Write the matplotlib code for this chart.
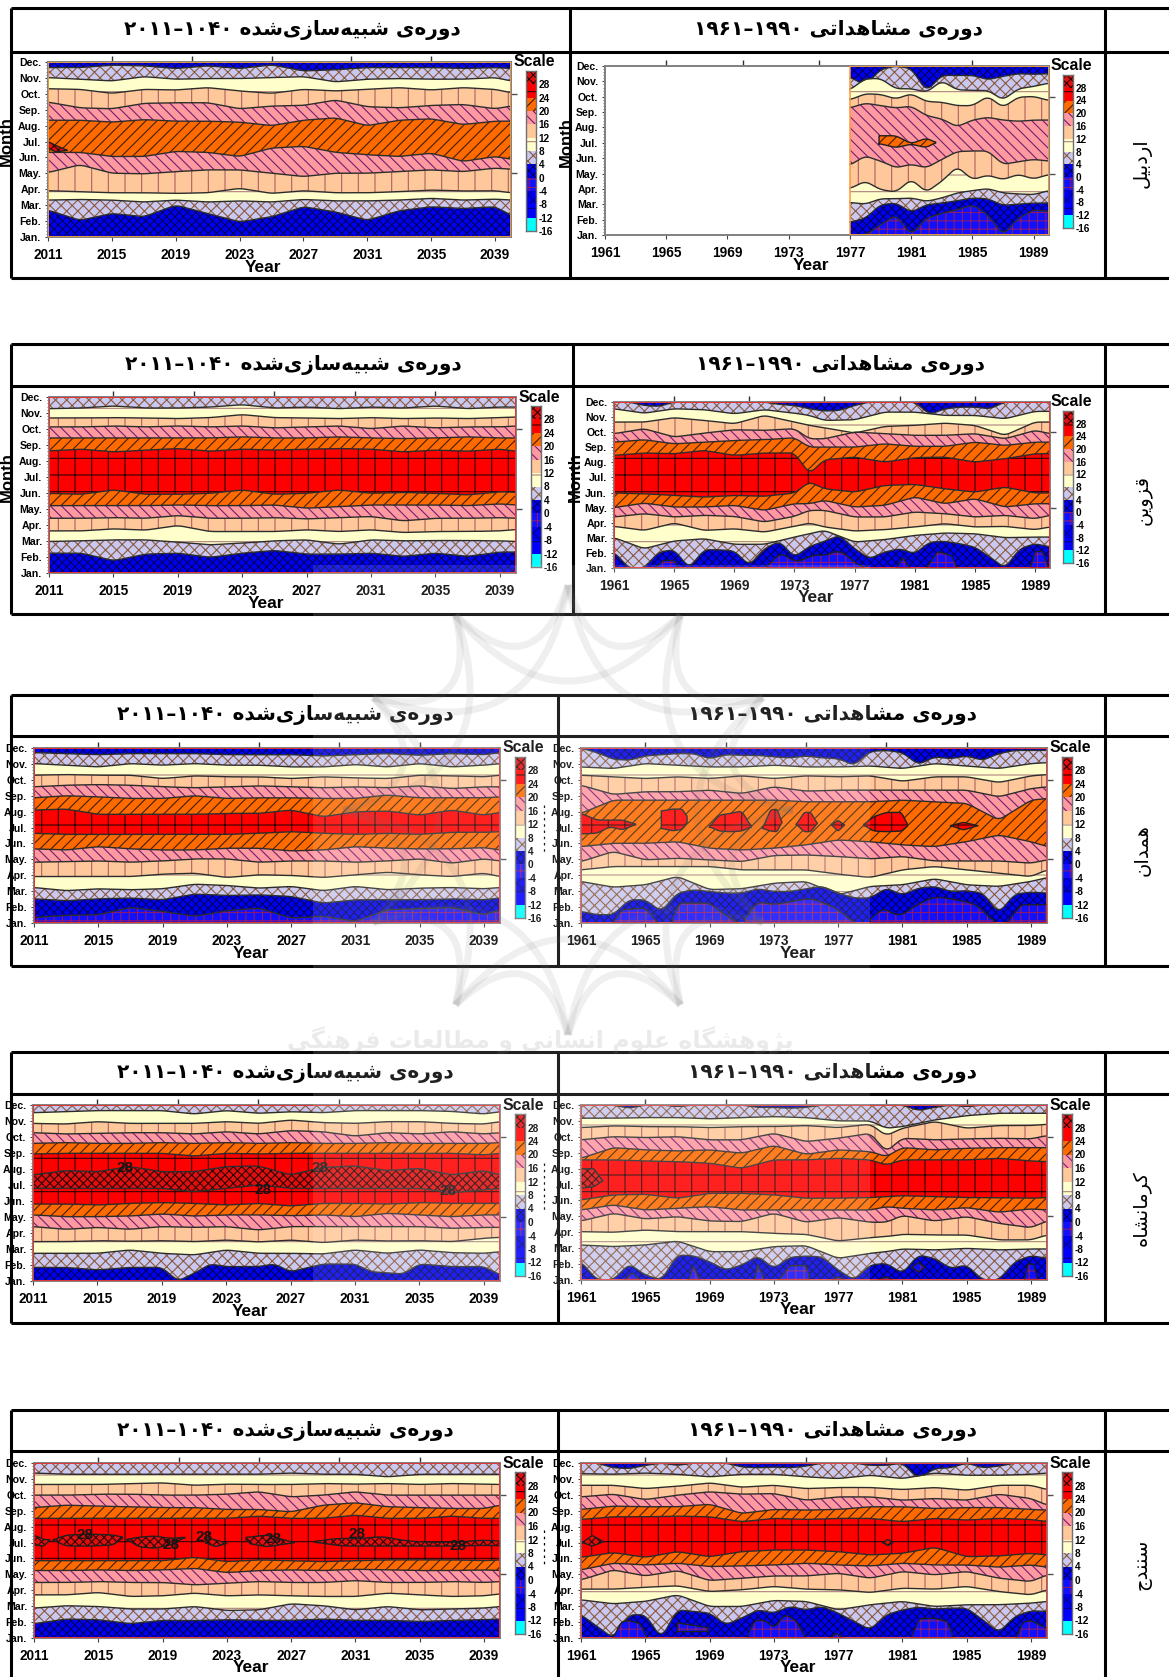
# --- imports ---
import numpy as np
import matplotlib
matplotlib.use("Agg")
import matplotlib.pyplot as plt
from matplotlib.patches import Rectangle, PathPatch
from matplotlib.path import Path

plt.rcParams["font.family"] = ["Liberation Sans", "DejaVu Sans"]
plt.rcParams["font.weight"] = "bold"
plt.rcParams["hatch.linewidth"] = 0.8

W, H = 1169, 1677
MONTHS = ["Jan.", "Feb.", "Mar.", "Apr.", "May.", "Jun.", "Jul.", "Aug.", "Sep.", "Oct.", "Nov.", "Dec."]
SCALE = [-16, -12, -8, -4, 0, 4, 8, 12, 16, 20, 24, 28]

SIM_X = [2011, 2013, 2015, 2017, 2019, 2021, 2023, 2025, 2027, 2029, 2031, 2033, 2035, 2037, 2039, 2040]
OBS_X = [1961, 1963, 1965, 1967, 1969, 1971, 1973, 1975, 1977, 1979, 1981, 1983, 1985, 1987, 1989, 1990]
OBS_YEARS = list(range(1961, 1991))

# --- isotherm positions (in month units), bottom to top ---
# --- Ardabil simulated ---
ard_sim_levels = [4, 8, 12, 16, 20, 20, 16, 12, 8, 4]
ard_sim_lines = [
    [2.69, 2.05, 2.48, 2.27, 3.0, 2.48, 1.95, 2.27, 2.9, 2.58, 2.05, 2.65, 2.9, 2.79, 2.9, 2.37],
    [3.32, 3.36, 3.32, 3.2, 3.32, 3.2, 3.27, 3.2, 3.36, 3.27, 3.27, 3.32, 3.43, 3.32, 3.38, 3.32],
    [3.91, 3.85, 3.78, 3.78, 3.74, 3.78, 4.06, 3.74, 3.91, 3.78, 3.78, 3.85, 3.95, 3.89, 3.91, 3.78],
    [5.05, 5.54, 5.01, 4.97, 5.11, 5.22, 5.22, 5.01, 4.8, 5.01, 5.01, 5.11, 5.22, 5.11, 5.33, 5.26],
    [6.32, 6.32, 6.06, 6.06, 6.38, 6.32, 6.06, 6.59, 6.7, 6.32, 6.17, 6.06, 6.27, 5.75, 6.06, 5.89],
    [8.34, 8.34, 8.22, 8.38, 8.28, 8.28, 8.22, 8.0, 8.34, 8.49, 8.0, 8.34, 8.43, 8.07, 8.28, 8.28],
    [9.48, 9.12, 9.06, 9.4, 9.44, 9.44, 9.06, 9.23, 9.27, 9.61, 9.19, 9.12, 9.27, 9.33, 9.06, 9.23],
    [10.32, 10.28, 10.03, 10.28, 10.24, 10.39, 10.18, 10.03, 10.28, 10.18, 10.28, 10.39, 10.24, 10.39, 10.28, 10.07],
    [11.02, 10.92, 10.81, 11.08, 10.92, 10.96, 10.96, 11.02, 11.08, 10.75, 10.92, 10.96, 10.92, 10.92, 11.02, 10.81],
    [11.65, 11.65, 11.8, 11.76, 11.59, 11.76, 11.59, 11.82, 11.44, 11.51, 11.65, 11.65, 11.65, 11.59, 11.65, 11.59],
]
ard_sim_islands = [(28, [2011, 2011.5, 2012.2], [6.6, 6.35, 6.45], [7.0, 6.75, 6.45])]

# --- Ardabil observed (record starts in 1977) ---
ARD_OBS_X = [1977, 1978, 1979, 1980, 1981, 1982, 1983, 1984, 1985, 1986, 1987, 1988, 1989, 1990]
ard_obs_levels = [0, 4, 8, 12, 16, 16, 12, 8, 4]
ard_obs_lines = [
    [1, 1, 1.66, 2.31, 1, 2.09, 2.42, 2.64, 2.97, 2.31, 1, 2.09, 2.64, 2.53],
    [1.83, 2.09, 2.97, 3.08, 2.49, 2.97, 3.08, 3.23, 3.41, 3.36, 2.93, 3.01, 3.08, 3.08],
    [3.12, 3.01, 3.36, 3.36, 3.41, 3.19, 3.41, 3.74, 3.89, 4.02, 3.74, 3.67, 3.63, 3.89],
    [4.02, 4.5, 3.95, 3.8, 4.61, 3.8, 4.5, 5.44, 4.61, 4.89, 4.61, 4.94, 4.65, 4.94],
    [5.55, 6.14, 5.81, 5.38, 5.6, 5.38, 5.92, 6.43, 6.47, 6.47, 5.6, 5.77, 5.92, 5.81],
    [9.27, 9.58, 9.42, 9.27, 9.38, 8.77, 8.55, 8.05, 8.48, 8.66, 8.48, 8.4, 8.48, 8.48],
    [9.8, 10.19, 10.15, 9.86, 10.19, 9.69, 9.64, 9.42, 9.42, 10.02, 9.32, 9.97, 10.02, 9.75],
    [10.45, 11.18, 11.18, 10.52, 10.52, 10.3, 11.02, 10.45, 10.41, 10.41, 9.8, 10.52, 10.67, 10.89],
    [11.28, 10.74, 11.77, 12, 11.83, 10.37, 11.39, 11.39, 11.39, 11.11, 11.33, 11.5, 11.46, 11.5],
]
ard_obs_islands = [(20, [1978.9, 1980, 1981, 1982, 1982.6], [6.95, 6.69, 6.91, 6.69, 7.02], [7.46, 7.46, 6.95, 7.3, 7.02])]

# --- Qazvin simulated ---
qaz_sim_levels = [4, 8, 12, 16, 20, 24, 24, 20, 16, 12, 8]
qaz_sim_lines = [
    [2.24, 2.24, 1.77, 2.18, 2.24, 1.98, 2.24, 2.41, 2.18, 2.18, 2.24, 2.04, 2.24, 2.04, 2.31, 2.31],
    [2.97, 3.01, 3.07, 3.07, 2.93, 2.76, 2.87, 3.01, 3.07, 2.8, 3.07, 3.01, 3.03, 3.03, 3.01, 2.97],
    [3.63, 3.63, 3.76, 3.68, 3.97, 3.59, 3.59, 3.59, 3.7, 3.59, 3.7, 3.53, 3.59, 3.59, 3.63, 3.72],
    [4.42, 4.42, 4.46, 4.42, 4.59, 4.42, 4.42, 4.46, 4.38, 4.46, 4.53, 4.26, 4.42, 4.42, 4.46, 4.42],
    [5.21, 5.21, 5.21, 5.21, 5.25, 5.21, 5.21, 5.25, 5.05, 5.15, 5.25, 5.25, 5.25, 5.21, 5.32, 5.25],
    [5.98, 5.92, 6.19, 5.92, 5.92, 5.98, 6.19, 5.92, 5.98, 6.19, 5.98, 6.04, 5.98, 5.88, 6.08, 6.04],
    [8.63, 8.74, 8.57, 8.68, 8.78, 8.61, 8.74, 8.68, 8.74, 8.78, 8.74, 8.57, 8.68, 8.61, 8.74, 8.61],
    [9.44, 9.44, 9.44, 9.44, 9.44, 9.44, 9.51, 9.44, 9.44, 9.51, 9.44, 9.4, 9.44, 9.51, 9.44, 9.44],
    [10.13, 10.13, 10.19, 10.13, 10.19, 10.13, 10.19, 10.07, 10.13, 10.19, 10.02, 10.19, 10.07, 10.13, 10.13, 10.19],
    [10.69, 10.69, 10.71, 10.69, 10.65, 10.71, 10.9, 10.71, 10.69, 10.65, 10.71, 10.65, 10.69, 10.65, 10.71, 10.75],
    [11.27, 11.31, 11.44, 11.31, 11.31, 11.37, 11.52, 11.31, 11.37, 11.27, 11.37, 11.31, 11.44, 11.27, 11.37, 11.37],
]

# --- Qazvin observed ---
QAZ_OBS_X = [1961, 1963, 1965, 1967, 1969, 1971, 1973, 1974, 1975, 1977, 1979, 1981, 1983, 1985, 1987, 1989, 1990]
qaz_obs_levels = [4, 8, 12, 16, 20, 24, 24, 20, 16, 12, 8, 4]
qaz_obs_lines = [
    (OBS_YEARS, [2.06, 1, 1, 2.06, 2.21, 1, 2.21, 2.21, 2.13, 1.18, 2.28, 2.77, 1.73, 2.43, 2.77, 3.16, 2.28, 1.62, 2.06, 2.28, 1.95, 2.72, 2.77, 2.61, 2.39, 1.73, 1, 2.28, 2.61, 2.39]),
    [3.01, 2.28, 2.79, 2.94, 2.57, 2.57, 3.05, 3.27, 3.49, 2.72, 2.88, 3.16, 3.32, 3.27, 3.01, 3.05, 3.05],
    [3.76, 3.49, 3.98, 3.49, 3.6, 3.38, 3.76, 3.98, 3.72, 3.45, 3.54, 3.72, 3.94, 3.72, 3.76, 3.54, 3.72],
    [4.38, 4.6, 4.38, 4.49, 4.42, 4.05, 4.42, 4.82, 4.82, 4.38, 4.38, 4.71, 4.6, 4.38, 4.49, 4.27, 4.49],
    [5, 5.3, 5.04, 5.04, 5.15, 4.82, 5.26, 5.26, 5.48, 5.04, 5.15, 5.7, 5.26, 5.59, 5.04, 5.26, 5.26],
    [5.97, 5.92, 5.81, 5.7, 5.81, 5.75, 5.97, 6.7, 6.25, 6.03, 6.47, 6.54, 6.25, 6.03, 6.36, 5.97, 5.97],
    [8.46, 8.62, 8.57, 8.79, 8.46, 8.62, 8.62, 7.25, 8.17, 8.35, 8.02, 8.31, 8.35, 8.02, 8.24, 8.57, 8.57],
    [9.34, 9.5, 9.23, 9.34, 9.45, 9.5, 9.63, 9.01, 9.01, 9.01, 9.23, 9.06, 9.06, 9.34, 9.12, 9.34, 9.34],
    [9.9, 10.23, 9.68, 9.94, 10.16, 10.12, 10.23, 9.56, 9.56, 10.01, 9.9, 9.79, 9.79, 9.9, 9.56, 10.12, 9.9],
    [10.67, 10.67, 10.96, 10.78, 10.56, 11.11, 10.67, 10.45, 10.29, 9.94, 10.38, 10.45, 10.6, 10.45, 9.79, 10.67, 10.67],
    [11.55, 11.26, 11.55, 11.49, 11.22, 11.49, 11.26, 11.11, 10.78, 10.82, 11.33, 11.33, 11.11, 11.11, 10.89, 11.38, 11.38],
    (OBS_YEARS, [12, 12, 11.77, 11.71, 12, 12, 12, 12, 12, 12, 12, 11.84, 11.77, 11.55, 11.4, 11.44, 11.77, 12, 12, 12, 12, 11.18, 11.55, 11.66, 11.66, 11.55, 12, 12, 12, 12]),
]
qaz_obs_islands = [
    (-4, [1963.7, 1964.3, 1965, 1965.3], 1, [1, 1.5, 1.5, 1]),
    (-4, [1971.2, 1972, 1973, 1973.5, 1974.3, 1975, 1976, 1977, 1977.6], 1, [1, 2.1, 1.4, 1.5, 1.9, 1.8, 2.2, 1.4, 1]),
    (-4, [1979.8, 1980.2, 1980.7], 1, [1, 1.7, 1]),
    (-4, [1981.8, 1982.5, 1983.5, 1983.8], 1, [1, 2.1, 1.8, 1]),
    (-4, [1988.7, 1989, 1989.5, 1989.9], 1, [1, 2.1, 2.1, 1]),
]

# --- Hamedan simulated ---
ham_sim_levels = [0, 4, 8, 12, 16, 20, 24, 24, 20, 16, 12, 8, 4]
ham_sim_lines = [
    [1.35, 1.48, 1.52, 1.98, 1.73, 1.42, 1.77, 1.94, 1.31, 1.42, 1.1, 1.84, 1.9, 1.98, 1.52, 1.84],
    [2.52, 2.4, 2.52, 2.57, 2.46, 2.82, 2.73, 2.77, 2.67, 2.25, 2.46, 2.46, 2.46, 2.52, 2.46, 2.57],
    [3.23, 3.03, 3.15, 3.09, 3.15, 3.44, 3.36, 3.19, 3.3, 3.03, 3.3, 3.09, 3.19, 3.23, 3.15, 3.23],
    [3.92, 3.92, 3.92, 3.92, 4.07, 4.13, 3.86, 4.03, 3.99, 3.86, 4.03, 4.19, 4.03, 3.92, 4.13, 3.92],
    [4.82, 4.86, 4.9, 4.82, 4.9, 5.03, 5.03, 4.82, 4.9, 4.9, 4.82, 4.9, 5.03, 4.76, 5.03, 4.9],
    [5.66, 5.59, 5.8, 5.66, 5.59, 5.59, 5.7, 5.7, 5.53, 5.59, 5.8, 5.7, 5.66, 5.66, 5.74, 5.59],
    [6.64, 6.57, 6.57, 6.57, 6.57, 6.57, 6.57, 6.64, 6.74, 6.64, 6.57, 6.64, 6.57, 6.7, 6.7, 6.74],
    [8.1, 8.16, 7.83, 7.83, 7.83, 7.83, 7.89, 7.89, 8.1, 7.68, 7.99, 8.04, 7.78, 8.1, 7.78, 7.95],
    [8.87, 9, 8.93, 8.83, 8.83, 9, 8.83, 8.87, 8.87, 8.83, 8.83, 9.04, 8.87, 8.87, 8.87, 8.93],
    [9.56, 9.66, 9.7, 9.66, 9.56, 9.5, 9.56, 9.62, 9.56, 9.5, 9.56, 9.5, 9.62, 9.45, 9.56, 9.56],
    [10.29, 10.33, 10.29, 10.29, 10.08, 10.25, 10.19, 10.19, 10.08, 10.19, 10.12, 10.08, 10.29, 10.25, 10.19, 10.29],
    [11.02, 10.92, 10.81, 11.02, 10.92, 11.02, 10.92, 10.92, 10.81, 10.81, 10.96, 10.81, 11.02, 10.81, 10.92, 11.02],
    [11.71, 11.65, 11.58, 11.65, 11.65, 11.65, 11.58, 11.58, 11.58, 11.5, 11.58, 11.65, 11.54, 11.65, 11.58, 11.71],
]

# --- Hamedan observed ---
ham_obs_levels = [4, 8, 12, 16, 20, 20, 16, 12, 8, 4]
ham_obs_lines = [
    (OBS_YEARS, [1.73, 1.52, 1.52, 2.46, 2.46, 1.73, 2.88, 3.09, 2.98, 2.88, 2.88, 3.15, 2.98, 2.98, 3.15, 3.3, 2.88, 2.57, 2.57, 3.19, 2.77, 3.19, 3.3, 2.98, 3.03, 2.88, 1.63, 2.82, 2.94, 2.88]),
    [3.61, 3.25, 3.4, 3.92, 3.1, 3.15, 3.5, 3.61, 2.77, 3.3, 3.4, 3.78, 3.4, 3.3, 3.61, 3.86],
    [4.34, 4.55, 4.55, 4.55, 4.55, 4.34, 4.34, 4.34, 4.07, 3.86, 4.34, 4.55, 4.34, 4.13, 3.92, 4.34],
    [4.86, 5.49, 4.97, 5.07, 4.97, 4.86, 5.24, 5.28, 5.18, 5.03, 5.18, 4.9, 4.9, 4.9, 4.76, 4.97],
    [5.8, 6.01, 6.01, 6.11, 5.7, 5.59, 5.7, 5.91, 6.22, 6.11, 5.91, 5.8, 6.11, 6.53, 6.11, 5.8],
    [7.89, 8.72, 8.72, 8.72, 8.72, 8.72, 8.72, 8.62, 8.62, 8.62, 8.72, 8.62, 8.52, 7.47, 8.72, 8.83],
    [9.66, 9.08, 9.25, 9.25, 9.35, 9.14, 9.56, 9.29, 9.35, 9.35, 9.35, 9.35, 9.35, 8.93, 9.45, 9.56],
    [10.29, 10.19, 10.08, 10.19, 10.08, 10.25, 10.08, 10.25, 10.19, 10.25, 9.91, 10.19, 10.19, 9.83, 10.25, 10.33],
    [10.81, 10.71, 11.02, 10.92, 10.81, 10.81, 10.92, 10.81, 10.81, 10.87, 10.71, 11.02, 10.87, 10.71, 11.02, 11.08],
    (OBS_YEARS, [12, 11.71, 11.29, 11.23, 11.5, 11.58, 11.65, 11.65, 11.33, 11.58, 11.54, 11.54, 11.44, 11.38, 11.5, 11.38, 11.33, 10.92, 11.79, 11.85, 11.71, 10.96, 11.44, 11.33, 11.5, 11.23, 11.65, 11.85, 11.85, 11.85]),
]
ham_obs_islands = [
    (-4, [1963, 1963.5, 1965, 1965.8], 1, [1, 1.83, 1.94, 1]),
    (-4, [1966.7, 1967, 1969, 1970, 1970.8], 1, [1, 2.25, 2.25, 1.5, 1]),
    (-4, [1971.2, 1971.8, 1973, 1975.3, 1976.9, 1978], 1, [1, 2.36, 2.15, 2.57, 1.94, 1]),
    (-4, [1979, 1979.7, 1980.7, 1981.9, 1983, 1984.4, 1985.7, 1986.7], 1, [1, 2.15, 1.31, 2.15, 2.67, 2.46, 2.15, 1]),
    (-4, [1987.5, 1988.4, 1990], 1, [1, 2.15, 2.15]),
    (24, [1961, 1962, 1962.8, 1963.6, 1964.4], [6.6, 6.64, 7.05, 6.85, 7.2], [7.89, 7.47, 7.47, 7.47, 7.2]),
    (24, [1966, 1966.7, 1967.3, 1967.6], [6.95, 6.8, 6.88, 7.37], [8.04, 8.16, 8.16, 7.68]),
    (24, [1969, 1969.6, 1970.3, 1971, 1971.6], [7.05, 6.78, 6.74, 6.78, 7.05], [7.05, 7.78, 7.89, 8.04, 7.05]),
    (24, [1972.3, 1972.8, 1973.2, 1973.5], [6.95, 6.78, 6.74, 7.33], [6.95, 8.1, 8.16, 7.33]),
    (24, [1974.4, 1974.9, 1975.3, 1975.7], [7.2, 6.74, 6.74, 7.26], [7.2, 7.95, 7.95, 7.26]),
    (24, [1976.6, 1977, 1977.4], [7.16, 6.78, 7.16], [7.16, 7.45, 7.16]),
    (24, [1978.6, 1979.2, 1980, 1981, 1981.3], [7.16, 6.78, 6.74, 6.78, 7.12], [7.16, 7.68, 7.95, 7.95, 7.12]),
    (24, [1984, 1984.8, 1985.7], [7.12, 6.85, 7.12], [7.12, 7.33, 7.12]),
]

# --- Kermanshah simulated ---
ker_sim_levels = [4, 8, 12, 16, 20, 24, 28, 28, 24, 20, 16, 12, 8]
ker_sim_lines = [
    ([2011, 2013, 2015, 2017, 2019, 2020, 2021, 2022, 2023, 2025, 2026, 2027, 2029, 2031, 2032, 2034, 2035, 2037, 2039, 2040],
     [1.85, 1.85, 1.69, 1.85, 1.85, 1, 1.48, 2.06, 1.9, 1.9, 2.06, 1.58, 2.06, 2.06, 1.58, 1.44, 2.06, 1.9, 1.9, 1.38]),
    [2.73, 2.73, 2.73, 2.94, 2.73, 2.63, 2.94, 2.73, 2.73, 2.69, 2.94, 2.73, 2.94, 2.77, 2.73, 2.83],
    [3.46, 3.46, 3.52, 3.48, 3.52, 3.46, 3.56, 3.44, 3.56, 3.4, 3.56, 3.5, 3.52, 3.46, 3.67, 3.73],
    [4.4, 4.23, 4.35, 4.23, 4.4, 4.35, 4.4, 4.19, 4.4, 4.4, 4.4, 4.4, 4.4, 4.29, 4.35, 4.35],
    [5.13, 5.02, 5.02, 5.06, 5.19, 5.06, 5.13, 5.13, 5.08, 5.13, 5.02, 5.23, 5.13, 5.02, 5.13, 5.13],
    [5.81, 5.81, 5.75, 5.85, 5.9, 5.85, 5.75, 5.85, 5.69, 5.85, 5.85, 5.81, 5.9, 5.85, 5.85, 5.85],
    [6.79, 6.79, 6.79, 6.79, 6.79, 6.58, 6.79, 7, 6.79, 6.79, 6.79, 6.79, 6.79, 6.52, 6.69, 6.79],
    [7.63, 7.9, 7.83, 8.15, 7.83, 7.83, 8.15, 8.19, 7.63, 8.1, 8.19, 7.9, 8.04, 7.63, 7.9, 7.63],
    [8.94, 8.98, 8.98, 8.98, 8.98, 8.81, 8.98, 8.94, 8.98, 8.98, 8.98, 8.98, 8.98, 8.98, 8.88, 8.98],
    [9.6, 9.65, 9.6, 9.6, 9.65, 9.6, 9.65, 9.6, 9.65, 9.6, 9.6, 9.65, 9.6, 9.6, 9.6, 9.65],
    [10.27, 10.19, 10.23, 10.27, 10.27, 10.19, 10.33, 10.19, 10.4, 10.33, 10.06, 10.27, 10.19, 10.33, 10.19, 10.27],
    [10.85, 10.81, 10.96, 10.85, 10.85, 10.85, 10.96, 10.85, 11.06, 10.9, 10.85, 10.96, 10.96, 10.85, 10.81, 10.96],
    [11.52, 11.58, 11.65, 11.65, 11.65, 11.44, 11.65, 11.48, 11.58, 11.52, 11.65, 11.65, 11.65, 11.6, 11.44, 11.58],
]
ker_sim_labels = [(2016.7, 8.04), (2028.8, 8.04), (2025.3, 6.69), (2036.8, 6.65)]

# --- Kermanshah observed ---
KER_OBS_X = [1961, 1963, 1965, 1967, 1969, 1971, 1973, 1975, 1977, 1979, 1980, 1981, 1983, 1985, 1987, 1989, 1990]
ker_obs_levels = [4, 8, 12, 16, 20, 24, 24, 20, 16, 12, 8, 4]
ker_obs_lines = [
    (OBS_YEARS, [2.15, 1, 1, 2.01, 1.31, 1, 2.57, 2.53, 2.15, 1.63, 1.94, 2.51, 1.73, 2.43, 2.51, 2.45, 1.63, 1, 1.94, 2.05, 1.42, 2.57, 2.36, 1.73, 1.94, 1, 1, 2.15, 2.53, 2.36]),
    [3.2, 3.1, 3.2, 3.45, 2.78, 2.78, 3.1, 3.16, 2.36, 2.68, 2.78, 2.95, 2.89, 2.99, 2.89, 2.95, 2.95],
    [4.04, 4, 4.14, 4.04, 4.04, 4.04, 3.93, 3.87, 3.45, 3.66, 3.73, 3.87, 3.83, 3.83, 3.52, 3.52, 3.83],
    [4.71, 5.19, 4.84, 4.98, 4.71, 4.67, 5.19, 4.63, 4.92, 4.63, 4.63, 5.05, 4.71, 4.98, 4.56, 4.29, 4.71],
    [5.4, 5.72, 5.4, 5.51, 5.61, 5.4, 5.4, 5.4, 5.4, 5.4, 5.61, 5.51, 5.4, 5.55, 5.26, 5.47, 5.4],
    [6.03, 6.35, 6.39, 6.14, 6.45, 6.45, 6.35, 6.14, 6.14, 6.18, 6.24, 6.3, 6.24, 6.18, 6.18, 6.14, 6.18],
    [8.55, 8.55, 8.48, 8.44, 8.34, 8.02, 8.55, 8.55, 8.65, 8.55, 8.23, 8.55, 8.55, 8.55, 8.65, 8.48, 8.44],
    [8.65, 9.32, 9.18, 9.11, 9.18, 8.97, 9.45, 8.9, 9.18, 9.07, 8.76, 9.32, 9.18, 9.28, 9.32, 9.32, 9.32],
    [9.81, 10.01, 9.95, 10.01, 9.81, 9.81, 10.22, 9.7, 9.91, 10.22, 9.07, 9.91, 9.81, 9.87, 9.91, 9.87, 10.08],
    [10.58, 10.69, 10.64, 10.64, 10.58, 10.64, 10.64, 10.71, 10.58, 10.79, 10.08, 10.54, 10.96, 10.54, 10.71, 10.71, 10.79],
    [11.17, 11.17, 11.21, 11.21, 11.13, 11.21, 11.27, 11.21, 11, 11, 10.54, 10.64, 11.06, 11.33, 11.48, 11.48, 11.48],
    (OBS_YEARS, [12, 12, 12, 11.8, 12, 12, 11.9, 12, 12, 12, 12, 11.85, 11.85, 11.8, 11.85, 12, 12, 12, 12, 12, 12, 11.65, 11.85, 12, 11.9, 12, 12, 12, 12, 12]),
]
ker_obs_islands = [
    (28, [1961, 1961.8, 1962.35], [6.77, 6.87, 7.23], [7.98, 8.0, 7.23]),
    (-4, [1963.7, 1964.2, 1964.7], 1, [1, 1.45, 1]),
    (-4, [1967.7, 1968, 1968.4], 1, [1, 1.9, 1]),
    (-4, [1971.8, 1972, 1972.4], 1, [1, 2, 1]),
    (-4, [1973.3, 1974, 1975.1, 1975.2], 1, [1, 1.9, 1.9, 1]),
    (-4, [1976.6, 1977, 1977.4], 1, [1, 1.2, 1]),
    (-4, [1979.5, 1980, 1980.4], 1, [1, 1.2, 1]),
    (-4, [1981.6, 1982, 1982.4], [1.8, 1.5, 1.8], [1.8, 2.1, 1.8]),
    (-4, [1988.6, 1988.8, 1989.2, 1989.4], 1, [1, 2, 2, 1]),
]

# --- Sanandaj simulated ---
san_sim_levels = [4, 8, 12, 16, 20, 24, 24, 20, 16, 12, 8]
san_sim_lines = [
    [1.9, 2.19, 2.15, 1.9, 2.11, 2.09, 2.15, 2.11, 2.11, 2.19, 2.11, 2.11, 2.04, 2.11, 2.15, 2.19],
    [2.88, 3.03, 2.98, 2.82, 2.82, 2.98, 2.73, 2.77, 3.15, 3.03, 2.77, 2.98, 2.77, 2.82, 2.88, 2.98],
    [3.71, 3.71, 3.86, 3.61, 3.65, 3.82, 3.65, 3.71, 3.65, 3.61, 3.61, 3.82, 3.71, 3.61, 3.65, 3.78],
    [4.49, 4.49, 4.55, 4.49, 4.49, 4.34, 4.44, 4.55, 4.49, 4.49, 4.61, 4.49, 4.49, 4.55, 4.49, 4.55],
    [5.24, 5.24, 5.28, 5.24, 5.28, 5.38, 5.11, 5.24, 5.28, 5.24, 5.32, 5.28, 5.24, 5.24, 5.28, 5.24],
    [5.86, 5.86, 5.86, 5.86, 5.86, 6.07, 5.8, 5.91, 5.86, 5.8, 5.86, 5.91, 5.91, 5.91, 5.86, 5.91],
    [8.52, 8.52, 8.52, 8.52, 8.52, 8.52, 8.52, 8.66, 8.52, 8.52, 8.72, 8.52, 8.52, 8.66, 8.52, 8.52],
    [9.2, 9.35, 9.29, 9.25, 9.2, 9.2, 9.08, 9.08, 8.93, 9.35, 9.5, 9.25, 9.2, 9.14, 9.14, 9.35],
    [9.98, 9.98, 10.04, 10.04, 9.98, 9.98, 10.04, 10.19, 9.87, 9.98, 10.19, 9.98, 9.98, 9.98, 9.98, 9.98],
    [10.65, 10.65, 10.65, 10.71, 10.75, 10.6, 10.67, 10.65, 10.65, 10.71, 10.67, 10.71, 10.65, 10.71, 10.67, 10.65],
    [11.37, 11.29, 11.29, 11.29, 11.29, 11.29, 11.29, 11.29, 11.37, 11.29, 11.29, 11.13, 11.29, 11.29, 11.29, 11.29],
]
san_sim_islands = [
    (28, [2011, 2011.6, 2012], [6.85, 6.78, 7.16], [7.47, 7.2, 7.16]),
    (28, [2012.2, 2013, 2014.5, 2016, 2016.5], [7.16, 6.78, 6.78, 6.85, 7.33], [7.16, 7.47, 7.53, 7.47, 7.33]),
    (28, [2016.8, 2017.5, 2018.5, 2019.5, 2020.4], [7.2, 6.74, 6.64, 6.85, 7.33], [7.2, 7.33, 7.41, 7.26, 7.33]),
    (28, [2021.7, 2022.3, 2023], [6.99, 6.74, 6.95], [7.33, 7.16, 6.95]),
    (28, [2024.2, 2024.3, 2025.5, 2027.2], [7.33, 6.95, 6.74, 6.99], [7.33, 7.33, 7.47, 6.99]),
    (28, [2028.5, 2030, 2031.5, 2032.5, 2034, 2036, 2038, 2039, 2040], [7.05, 6.78, 6.78, 6.78, 6.78, 6.78, 6.78, 6.85, 6.78], [7.05, 7.3, 7.2, 7.45, 7.1, 7.0, 7.05, 7.2, 7.05]),
]
san_sim_labels = [(2014.2, 7.47), (2019.5, 6.85), (2021.6, 7.33), (2025.9, 7.2), (2031.1, 7.53), (2037.4, 6.78)]

# --- Sanandaj observed ---
san_obs_levels = [4, 8, 12, 16, 20, 24, 24, 20, 16, 12, 8, 4]
san_obs_lines = [
    (OBS_YEARS, [2.46, 1.73, 1, 2.46, 2.46, 1, 2.77, 2.67, 2.57, 1.84, 2.25, 2.77, 2.57, 2.98, 2.77, 2.98, 2.57, 2.04, 1.52, 2.46, 2.77, 2.94, 2.82, 2.88, 2.88, 2.15, 1.35, 2.36, 2.71, 2.67]),
    [3.4, 3.15, 3.3, 3.71, 2.98, 2.98, 3.36, 3.3, 2.77, 3.09, 3.3, 2.98, 3.09, 3.09, 3.19, 3.3],
    [4.07, 4.07, 4.19, 4.28, 3.92, 4.03, 4.24, 4.07, 4.03, 3.86, 4.13, 4.07, 4.24, 3.92, 3.71, 4.03],
    [4.65, 5.28, 4.9, 5.24, 4.61, 4.76, 4.9, 4.9, 5.07, 4.76, 5.18, 4.97, 5.18, 4.76, 4.55, 4.97],
    [5.28, 5.7, 5.59, 5.7, 5.49, 5.53, 5.59, 5.7, 5.59, 5.53, 5.7, 5.59, 5.59, 5.45, 5.59, 5.45],
    [6.07, 6.37, 6.07, 6.43, 6.11, 6.43, 6.53, 6.53, 6.43, 6.22, 6.32, 6.7, 6.11, 6.16, 6.32, 6.22],
    [8.45, 8.62, 8.62, 8.66, 8.62, 8.31, 8.52, 8.45, 8.52, 8.52, 8.31, 8.52, 8.41, 8.52, 8.45, 8.31],
    [9.08, 9.29, 9.25, 9.25, 9.41, 8.83, 9.08, 9.04, 9.08, 9.25, 9.25, 9.14, 9.2, 9.2, 9.08, 9.04],
    [9.87, 10.04, 9.7, 9.98, 10.19, 10.04, 10.08, 9.66, 9.87, 9.87, 9.66, 9.77, 9.66, 10.04, 9.77, 9.35],
    [10.6, 10.6, 10.39, 10.54, 10.75, 10.48, 10.6, 10.39, 10.46, 10.46, 10.33, 10.46, 10.29, 10.6, 10.6, 10.33],
    [11.33, 11.29, 11.37, 11.29, 11.13, 11.29, 11.29, 11.13, 11.02, 11.23, 11.02, 11.37, 11.23, 11.23, 11.29, 11.37],
    (OBS_YEARS, [12, 12, 11.7, 11.65, 11.85, 12, 11.85, 12, 12, 12, 11.75, 11.7, 11.75, 11.7, 11.8, 12, 12, 12, 11.85, 11.85, 12, 11.0, 11.65, 11.7, 12, 11.7, 11.8, 12, 12, 12]),
]
san_obs_islands = [
    (-4, [1963, 1963.5, 1964, 1964.7, 1965.1], 1, [1, 2, 2.1, 1.9, 1]),
    (-4, [1967, 1968.9], [1.4, 1.42], [1.95, 1.65]),
    (-4, [1971.4, 1971.7, 1972.5, 1973, 1973.7, 1974.5, 1974.9], 1, [1, 2.1, 2.1, 1.6, 2.5, 2.0, 1]),
    (-4, [1976.5, 1976.9, 1977.3], 1, [1, 1.3, 1]),
    (-4, [1981.6, 1982, 1983, 1983.9, 1984.1], 1, [1, 2.2, 2.25, 2, 1]),
    (-4, [1988.1, 1988.5, 1989, 1990], 1, [1, 2, 2.1, 1.6]),
    (28, [1961.1, 1961.7, 1962.4], [7.0, 6.78, 7.05], [7.0, 7.45, 7.05]),
    (28, [1979.8, 1980.1, 1980.4], [7.0, 6.8, 7.0], [7.0, 7.2, 7.0]),
]

# --- band styles: lower level -> fill, hatch, hatch colour ---
BANDS = {
    -16: ("#00FFFF", None, "#00FFFF"),
    -12: ("#0000FF", "-", "#000080"),
    -8: ("#0000F0", "xxx", "#000090"),
    -4: ("#1010FF", "++", "#8A1A70"),
    0: ("#0000F0", "xxxx", "#000060"),
    4: ("#C8C8F0", "xxx", "#8B5A3C"),
    8: ("#FFFFCC", "-", "#B08080"),
    12: ("#FFC89B", "|", "#B06060"),
    16: ("#FF99A0", "\\\\\\", "#702070"),
    20: ("#FF6A00", "///", "#402000"),
    24: ("#FF0000", "+", "#300000"),
    28: ("#E01010", "xxxx", "#300000"),
}


# --- Persian text: matplotlib does not shape, so use presentation forms in visual order ---
FORMS = {
    "ا": "\uFE8D\uFE8E", "د": "\uFEA9\uFEAA", "ر": "\uFEAD\uFEAE", "ز": "\uFEAF\uFEB0", "ژ": "\uFB8A\uFB8B", "و": "\uFEED\uFEEE",
    "ب": "\uFE8F\uFE90\uFE91\uFE92", "پ": "\uFB56\uFB57\uFB58\uFB59", "ت": "\uFE95\uFE96\uFE97\uFE98",
    "ج": "\uFE9D\uFE9E\uFE9F\uFEA0", "س": "\uFEB1\uFEB2\uFEB3\uFEB4", "ش": "\uFEB5\uFEB6\uFEB7\uFEB8",
    "ط": "\uFEC1\uFEC2\uFEC3\uFEC4", "ع": "\uFEC9\uFECA\uFECB\uFECC", "ف": "\uFED1\uFED2\uFED3\uFED4",
    "ق": "\uFED5\uFED6\uFED7\uFED8", "ک": "\uFB8E\uFB8F\uFB90\uFB91", "گ": "\uFB92\uFB93\uFB94\uFB95",
    "ل": "\uFEDD\uFEDE\uFEDF\uFEE0", "م": "\uFEE1\uFEE2\uFEE3\uFEE4", "ن": "\uFEE5\uFEE6\uFEE7\uFEE8",
    "ه": "\uFEE9\uFEEA\uFEEB\uFEEC", "ی": "\uFBFC\uFBFD\uFBFE\uFBFF",
}


def fa(text):
    out = []
    for i, ch in enumerate(text):
        if ch == "\u200c":
            continue
        if ch not in FORMS:
            out.append(ch)
            continue
        prev = text[i - 1] if i > 0 else ""
        nxt = text[i + 1] if i + 1 < len(text) else ""
        form = FORMS[ch]
        join_prev = prev in FORMS and len(FORMS[prev]) == 4
        join_next = nxt in FORMS and len(form) == 4
        if join_prev and join_next:
            out.append(form[3])
        elif join_prev:
            out.append(form[1])
        elif join_next:
            out.append(form[2])
        else:
            out.append(form[0])
    return "".join(reversed(out))


def box(fig, x0, x1, y0, y1, **kw):
    return fig.add_axes([x0 / W, 1 - y1 / H, (x1 - x0) / W, (y1 - y0) / H], **kw)


def band(ax, x, lo, hi, level, zorder=1):
    col, hatch, hcol = BANDS[level]
    ax.fill_between(x, lo, hi, facecolor=col, hatch=hatch, edgecolor=hcol, linewidth=0, zorder=zorder)


def smooth(y, n):
    # round off the corners so the lines read like the contoured curves
    pad = n // 2
    return np.convolve(np.pad(y, pad, mode="edge"), np.ones(n) / n, mode="valid")


def panel(ax, default_x, levels, lines, border, islands=(), labels=()):
    series = [ln if isinstance(ln, tuple) else (default_x, ln) for ln in lines]
    grid = np.arange(default_x[0], default_x[-1] + 0.01, 0.1)
    prev = np.full(grid.shape, 1.0)
    curves = []
    for sx, sy in series:
        cur = np.maximum(smooth(np.interp(grid, sx, sy), 7), prev)
        curves.append(cur)
        prev = cur
    band(ax, grid, np.full(grid.shape, 1.0), curves[0], levels[0] - 4)
    for i in range(len(curves) - 1):
        band(ax, grid, curves[i], curves[i + 1], min(levels[i], levels[i + 1]))
    band(ax, grid, curves[-1], np.full(grid.shape, 12.0), levels[-1] - 4)
    for cur in curves:
        ax.plot(grid, cur, color="#2c2c2c", lw=1.0, zorder=2)
    for lev, xs, lo, hi in islands:
        fine = np.linspace(xs[0], xs[-1], 61)
        lo_arr = np.full(fine.shape, float(lo)) if np.isscalar(lo) else smooth(np.interp(fine, xs, lo), 9)
        hi_arr = np.maximum(smooth(np.interp(fine, xs, hi), 9), lo_arr)
        band(ax, fine, lo_arr, hi_arr, lev, zorder=3)
        ax.plot(np.r_[fine, fine[::-1], fine[0]], np.r_[lo_arr, hi_arr[::-1], lo_arr[0]], color="#202020", lw=1.0, zorder=3)
    for lx, ly in labels:
        ax.text(lx, ly, "28", fontsize=11, ha="center", va="center", color="#151515", zorder=5)
    ax.add_patch(Rectangle((grid[0], 1), grid[-1] - grid[0], 11, fill=False, ec=border, lw=1.1, zorder=4))


def style_axes(ax, start):
    ax.set_xlim(start, start + 29)
    ax.set_ylim(1, 12)
    ax.set_xticks(list(range(start, start + 29, 4)))
    ax.set_yticks(range(1, 13), MONTHS)
    ax.set_yticks(np.arange(1, 12.01, 0.2), minor=True)
    ax.tick_params(axis="x", labelsize=9.8, length=3, pad=5, color="#404040")
    ax.tick_params(axis="y", which="major", labelsize=7.6, length=2.5, pad=2.5, color="#404040")
    ax.tick_params(axis="y", which="minor", length=1.5, color="#606060")
    for s in ax.spines.values():
        s.set_color("#808080")
        s.set_linewidth(1.4)
    top = ax.secondary_xaxis("top")
    top.set_xticks(list(range(start + 4, start + 29, 5)), labels=[])
    top.tick_params(length=4.5, width=1, color="#303030")
    top.spines["top"].set_visible(False)
    right = ax.secondary_yaxis("right")
    right.set_yticks([5, 10], labels=[])
    right.tick_params(length=4.5, width=1, color="#505050")
    right.spines["right"].set_visible(False)


def colorbar(fig, x0, x1, y0, y1):
    cax = box(fig, x0, x1, y0, y1)
    for lev in SCALE:
        col, hatch, hcol = BANDS[lev]
        cax.bar(0, 4, bottom=lev, width=1, color=col, hatch=hatch, edgecolor=hcol, linewidth=0)
    cax.set_xlim(-0.5, 0.5)
    cax.set_ylim(-16, 32)
    cax.set_xticks([])
    cax.yaxis.tick_right()
    cax.set_yticks(SCALE, [str(v) for v in SCALE])
    cax.tick_params(axis="y", length=0, labelsize=7.2, pad=2)
    for s in cax.spines.values():
        s.set_color("#707070")
        s.set_linewidth(1)
    fig.text((x0 + x1) / 2 / W + 3 / W, 1 - (y0 - 9) / H, "Scale", fontsize=11.4, ha="center", va="center")


# --- page: pixel geometry of the table and the ten panels ---
fig = plt.figure(figsize=(W / 100, H / 100), dpi=100, facecolor="white")
page = box(fig, 0, W, 0, H, zorder=-1)
page.set_xlim(0, W)
page.set_ylim(H, 0)
page.axis("off")

rows = [
    (8, 52, 278, 570, 30, 292, 838, "اردبیل", 163),
    (344, 386, 614, 573, 365, 293, 840, "قزوین", 500),
    (695, 736, 966, 558, 715, 285, 833, "همدان", 850),
    (1052, 1094, 1323, 558, 1073, 285, 833, "کرمانشاه", 1208),
    (1410, 1451, 1680, 558, 1431, 285, 833, "سنندج", 1564),
]
SIM_TITLE = "۲۰۱۱–۱۰۴۰ " + fa("دوره‌ی شبیه‌سازی‌شده")
OBS_TITLE = "۱۹۶۱–۱۹۹۰ " + fa("دوره‌ی مشاهداتی")
for top, head, bot, mid, ty, sx, ox, name, ny in rows:
    for yy in (top, head, bot):
        page.plot([11, W], [yy, yy], color="black", lw=2.2, solid_capstyle="butt")
    for xx in (11, mid, 1105):
        page.plot([xx, xx], [top, bot], color="black", lw=2.2, solid_capstyle="butt")
    page.text(sx, ty, SIM_TITLE, family="DejaVu Sans", fontsize=14.5, ha="center", va="center")
    page.text(ox, ty, OBS_TITLE, family="DejaVu Sans", fontsize=14.5, ha="center", va="center")
    page.text(1142, ny, fa(name), family="DejaVu Sans", fontsize=14, rotation=90, ha="center", va="center", fontweight="normal")
for y0_, y1_ in [(805, 852), (1163, 1210), (1530, 1567)]:
    page.plot([544, 544], [y0_, y1_], color="black", lw=0.9, ls=(0, (2, 3)))

panels = [
    # axes x0, x1, y0, y1, colourbar x0, x1, y0, y1, start year, default x, levels, lines, border, islands, labels, month label x
    (48, 511, 62, 237, 526, 536, 71, 231, 2011, SIM_X, ard_sim_levels, ard_sim_lines, "#FF9933", ard_sim_islands, (), 6),
    (605, 1049, 66, 235, 1063, 1073, 75, 228, 1961, ARD_OBS_X, ard_obs_levels, ard_obs_lines, "#FF9933", ard_obs_islands, (), 566),
    (49, 516, 397, 573, 531, 541, 406, 567, 2011, SIM_X, qaz_sim_levels, qaz_sim_lines, "#FF2020", (), (), 7),
    (614, 1050, 402, 568, 1063, 1073, 411, 563, 1961, QAZ_OBS_X, qaz_obs_levels, qaz_obs_lines, "#FF2020", qaz_obs_islands, (), 575),
    (34, 500, 748, 923, 515, 525, 757, 918, 2011, SIM_X, ham_sim_levels, ham_sim_lines, "#FF2020", (), (), None),
    (581, 1047, 748, 923, 1062, 1072, 757, 918, 1961, OBS_X, ham_obs_levels, ham_obs_lines, "#FF3030", ham_obs_islands, (), None),
    (33, 500, 1105, 1281, 515, 525, 1114, 1276, 2011, SIM_X, ker_sim_levels, ker_sim_lines, "#FF2020", (), ker_sim_labels, None),
    (581, 1047, 1105, 1280, 1062, 1072, 1114, 1276, 1961, KER_OBS_X, ker_obs_levels, ker_obs_lines, "#FF3030", ker_obs_islands, (), None),
    (34, 500, 1463, 1638, 515, 525, 1472, 1634, 2011, SIM_X, san_sim_levels, san_sim_lines, "#FF2020", san_sim_islands, san_sim_labels, None),
    (581, 1047, 1463, 1638, 1062, 1072, 1472, 1634, 1961, OBS_X, san_obs_levels, san_obs_lines, "#FF3030", san_obs_islands, (), None),
]

for x0, x1, y0, y1, cx0, cx1, cy0, cy1, start, dx, levels, lines, border, islands, labels, mx in panels:
    ax = box(fig, x0, x1, y0, y1)
    panel(ax, dx, levels, lines, border, islands, labels)
    style_axes(ax, start)
    colorbar(fig, cx0, cx1, cy0, cy1)
    fig.text(((x0 + x1) / 2 - 16) / W, 1 - (y1 + 30) / H, "Year", fontsize=12.5, ha="center", va="center")
    if mx is not None:
        fig.text(mx / W, 1 - ((y0 + y1) / 2 - 8) / H, "Month", fontsize=12, rotation=90, ha="center", va="center")

# --- faint watermark lying over the page: a twelve pointed star and a line of text ---
mark = box(fig, 0, W, 0, H, zorder=20)
mark.set_xlim(0, W)
mark.set_ylim(H, 0)
mark.axis("off")
mark.patch.set_alpha(0)
mark.add_patch(Rectangle((313, 565), 557, 725, color="white", alpha=0.13, lw=0))
cx_, cy_, rad = 568, 810, 225
for i in range(12):
    for step, inner in [(1, 0.55), (2, 0.28)]:
        a0, a1 = np.deg2rad(90 + 30 * i), np.deg2rad(90 + 30 * (i + step))
        am = (a0 + a1) / 2
        pts = [(cx_ + rad * np.cos(a0), cy_ - rad * np.sin(a0)),
               (cx_ + inner * rad * np.cos(am), cy_ - inner * rad * np.sin(am)),
               (cx_ + rad * np.cos(a1), cy_ - rad * np.sin(a1))]
        mark.add_patch(PathPatch(Path(pts, [Path.MOVETO, Path.CURVE3, Path.CURVE3]), fill=False, ec="#707070", lw=5, alpha=0.11))
mark.text(540, 1040, fa("پژوهشگاه علوم انسانی و مطالعات فرهنگی"), family="DejaVu Sans", fontsize=17,
          color="#808080", alpha=0.16, ha="center", va="center")

fig.savefig("out.png", dpi=100)
